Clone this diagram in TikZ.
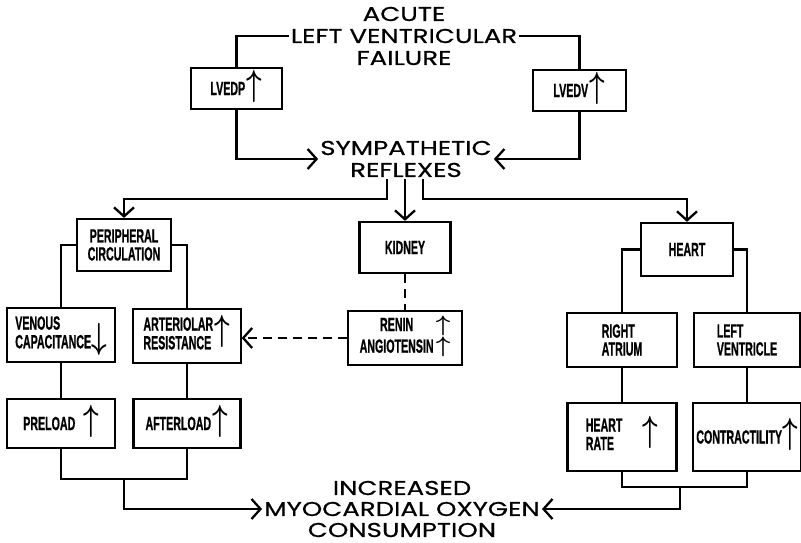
\documentclass[tikz,border=0pt]{standalone}
\usepackage{fontspec}
\usetikzlibrary{arrows.meta}
\newfontfamily\headfont{Poppins}[FakeStretch=1.3, FakeBold=0.6]
\newfontfamily\boxfont{Liberation Sans}[FakeBold=1.2]
% thin tall arrows used inside the boxes (the boxes are squeezed to 0.56 width)
\newcommand\upar{\smash{\scalebox{2.8}[2.1]{\boldmath$\uparrow$}}}
\newcommand\dnar{\smash{\scalebox{2.8}[2.1]{\boldmath$\downarrow$}}}
\newcommand\uparsm{\smash{\scalebox{2.6}[1.3]{\boldmath$\uparrow$}}}
\tikzset{
  stage/.style={draw, line width=2.2pt, inner sep=2pt, align=center,
    font=\boxfont\bfseries\fontsize{19}{18}\selectfont, xscale=0.56},
  wide/.style={minimum width=#1/0.56},
  head/.style={align=center, inner sep=2pt,
    font=\headfont\fontsize{20}{22}\selectfont},
  link/.style={line width=2.3pt},
  flow/.style={link, -{Straight Barb[length=9pt,width=20pt]}},
  hint/.style={link, dash pattern=on 9pt off 6pt},
}
\begin{document}
\begin{tikzpicture}[x=1pt,y=-1pt]
\useasboundingbox (0,0) rectangle (801,543);

% headings
\node[head] (alvf) at (404,36) {ACUTE\\LEFT VENTRICULAR\\FAILURE};
\node[head] (symp) at (406,159) {SYMPATHETIC\\REFLEXES};
\node[head, font=\headfont\fontsize{20}{21}\selectfont] (myo) at (402,509) {INCREASED\\MYOCARDIAL OXYGEN\\CONSUMPTION};

% first row
\node[stage, wide=91, minimum height=41] (lvedp) at (236.5,88.5) {LVEDP\,\upar};
\node[stage, wide=93, minimum height=41] (lvedv) at (579.5,90.5) {LVEDV\,\upar};

% organs
\node[stage, wide=94, minimum height=52] (periph) at (124,245) {PERIPHERAL\\CIRCULATION};
\node[stage, wide=91, minimum height=51] (kidney) at (405,247.5) {KIDNEY};
\node[stage, wide=92, minimum height=53] (heart) at (687,249.5) {HEART};

% mechanisms
\node[stage, wide=108, minimum height=54] (venous) at (61,335)
  {\begin{tabular}{@{}l@{}}VENOUS\\CAPACITANCE\dnar\end{tabular}};
\node[stage, wide=108, minimum height=54] (arteriolar) at (187,336)
  {\begin{tabular}[c]{@{}l@{}}ARTERIOLAR\\RESISTANCE\end{tabular}\,\upar};
\node[stage, wide=114, minimum height=54] (renin) at (405,338)
  {\begin{tabular}{@{}c@{\hspace{4pt}}c@{}}RENIN & \uparsm\\[3pt]ANGIOTENSIN & \uparsm\end{tabular}};
\node[stage, wide=110, minimum height=54, align=left] (ratrium) at (622,340) {RIGHT\\ATRIUM};
\node[stage, wide=106, minimum height=54, align=left] (lventricle) at (747,340) {LEFT\\VENTRICLE};

% effects
\node[stage, wide=108, minimum height=49] (preload) at (61,423.5) {PRELOAD\hspace{14pt}\upar};
\node[stage, wide=107, minimum height=49] (afterload) at (187,423.5) {AFTERLOAD\,\upar};
\node[stage, wide=109, minimum height=68] (hrate) at (622,437)
  {\begin{tabular}[c]{@{}l@{}}HEART\\RATE\end{tabular}\hspace{36pt}\upar};
\node[stage, wide=108, minimum height=68] (contract) at (747,437) {CONTRACTILITY\upar};

% failure feeds both filling indices
\draw[link] (alvf.west) -| (lvedp.north);
\draw[link] (alvf.east) -| (lvedv.north);
\draw[flow] (lvedp.south) |- (symp.west);
\draw[flow] (lvedv.south) |- (symp.east);

% reflex outflow to the three organs
\coordinate (fork) at (0,199);
\draw[flow] ([xshift=-19pt]symp.south) |- (periph.north |- fork) -- (periph.north);
\draw[flow] (symp.south -| kidney.north) -- (kidney.north);
\draw[flow] ([xshift=17pt]symp.south) |- (heart.north |- fork) -- (heart.north);

% peripheral circulation
\draw[link] (periph.west) -| (venous.north);
\draw[link] (periph.east) -| (arteriolar.north);
\draw[link] (venous.south) -- (preload.north);
\draw[link] (arteriolar.south) -- (afterload.north);
\coordinate (jl) at (124,479);
\draw[link] (preload.south) |- (jl) -| (afterload.south);
\draw[flow] (jl) |- (myo.west);

% renal pathway
\draw[hint] (kidney.south) -- (renin.north);
\draw[hint, -{Straight Barb[length=9pt,width=20pt]}] (renin.west) -- (renin.west -| arteriolar.east);

% heart
\draw[link] (heart.west) -| (ratrium.north);
\draw[link] (heart.east) -| (lventricle.north);
\draw[link] (ratrium.south) -- (hrate.north);
\draw[link] (lventricle.south) -- (contract.north);
\coordinate (jr) at (680,487);
\draw[link] (hrate.south) |- (jr) -| (contract.south);
\draw[flow] (jr) |- (myo.east);
\end{tikzpicture}
\end{document}
